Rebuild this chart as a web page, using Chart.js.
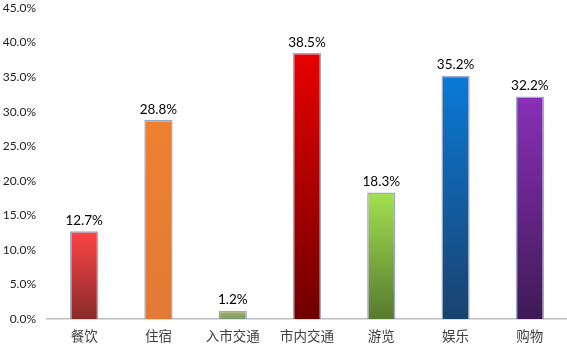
<!DOCTYPE html>
<html>
<head>
<meta charset="utf-8">
<script src="https://cdn.jsdelivr.net/npm/chart.js@4"></script>
<style>
html,body{margin:0;padding:0;background:#fff;}
#wrap{width:567px;height:350px;position:relative;}
</style>
</head>
<body>
<div id="wrap"><canvas id="c" width="567" height="350"></canvas></div>
<script>
const categories = ['餐饮','住宿','入市交通','市内交通','游览','娱乐','购物'];
const values = [12.7, 28.8, 1.2, 38.5, 18.3, 35.2, 32.2];
const yTicks = [0,5,10,15,20,25,30,35,40,45];
const topColors = ['#ff4444','#ef8030','#b0b060','#e80000','#a4e050','#0a7ad6','#8a30b8'];
const bottomColors = ['#8a2a2a','#e27a36','#7a9a70','#700000','#587a2e','#1a426e','#3e1a56'];

const labelPlugin = {
  id: 'valueLabels',
  afterDatasetsDraw(chart) {
    const ctx = chart.ctx;
    const meta = chart.getDatasetMeta(0);
    ctx.save();
    ctx.font = '13.5px Lato, "Liberation Sans", sans-serif';
    ctx.fillStyle = '#000';
    ctx.textAlign = 'center';
    ctx.textBaseline = 'bottom';
    meta.data.forEach((el, i) => {
      ctx.fillText(values[i].toFixed(1) + '%', el.x, el.y - 4);
    });
    ctx.restore();
  }
};

new Chart(document.getElementById('c'), {
  type: 'bar',
  data: {
    labels: categories,
    datasets: [{
      data: values,
      backgroundColor: (ctx) => {
        const chart = ctx.chart;
        const ys = chart.scales.y;
        if (!ys || ctx.type !== 'data') return topColors[ctx.dataIndex || 0];
        const top = ys.getPixelForValue(ctx.raw);
        const bottom = ys.getPixelForValue(0);
        if (!isFinite(top) || !isFinite(bottom) || top === bottom) return topColors[ctx.dataIndex];
        const g = chart.ctx.createLinearGradient(0, top, 0, bottom);
        g.addColorStop(0, topColors[ctx.dataIndex]);
        g.addColorStop(1, bottomColors[ctx.dataIndex]);
        return g;
      },
      borderColor: 'rgba(120,140,180,0.75)',
      borderWidth: 1.5,
      categoryPercentage: 1,
      barPercentage: 0.38
    }]
  },
  options: {
    responsive: false,
    animation: false,
    layout: { padding: { top: 8, right: 0, left: 0, bottom: 0 } },
    plugins: { legend: { display: false }, tooltip: { enabled: false } },
    scales: {
      x: {
        afterFit: (s) => { s.height = 31; s.paddingLeft = 0; s.paddingRight = 0; },
        grid: { display: false, drawTicks: false },
        border: { display: true, color: '#bfbfbf', width: 1.5 },
        ticks: {
          color: '#404040',
          padding: 9,
          font: { family: '"Noto Sans CJK SC", sans-serif', size: 13.5 }
        }
      },
      y: {
        min: 0,
        max: 45,
        afterFit: (s) => { s.width = 47; s.paddingTop = 0; s.paddingBottom = 0; },
        afterBuildTicks: (axis) => { axis.ticks = yTicks.map(v => ({ value: v })); },
        grid: { display: false, drawTicks: false },
        border: { display: false },
        ticks: {
          color: '#222',
          padding: 11,
          font: { family: 'Lato, "Liberation Sans", sans-serif', size: 12 },
          callback: (v) => Number(v).toFixed(1) + '%'
        }
      }
    }
  },
  plugins: [labelPlugin]
});
</script>
</body>
</html>
